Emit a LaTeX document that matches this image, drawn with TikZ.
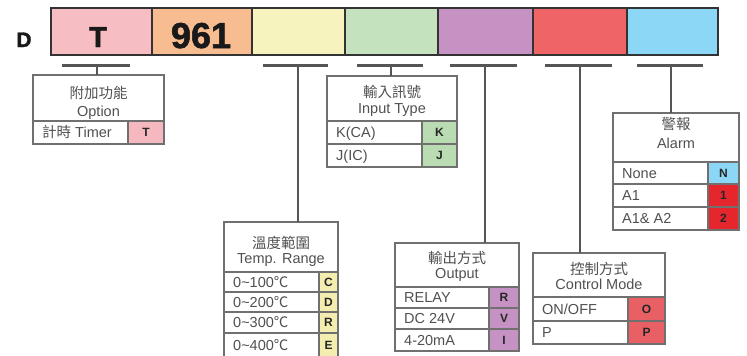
\documentclass[tikz,border=0pt]{standalone}
\usepackage{fontspec}
\setmainfont{Liberation Sans}
\newfontfamily\cjk{Noto Sans CJK TC}
\newfontfamily\heavy[BoldFeatures={FakeBold=1.5}]{Liberation Sans}
\definecolor{tpink}{HTML}{F6BEC3}
\definecolor{torange}{HTML}{F7BD90}
\definecolor{tyellow}{HTML}{F6F3BE}
\definecolor{tgreen}{HTML}{C5E2BF}
\definecolor{tpurple}{HTML}{C692C4}
\definecolor{tred}{HTML}{EF6467}
\definecolor{tblue}{HTML}{8DD7F6}
\definecolor{cred}{HTML}{E5262C}
\definecolor{cyellow}{HTML}{F3EDB0}
\definecolor{cgreen}{HTML}{B9DCB3}
\definecolor{cpink}{HTML}{F4B8BE}
\definecolor{cpurple}{HTML}{C692C4}
\definecolor{cored}{HTML}{E96064}
\definecolor{barline}{HTML}{333333}
\definecolor{tline}{HTML}{707070}
\definecolor{ttext}{HTML}{505050}
\definecolor{conn}{HTML}{555555}
\newcommand\codefont{\fontsize{12}{12}\selectfont\bfseries}
\newcommand\mkrow[9]{%
 \node[cell, minimum width={#4-#2}, minimum height={#6-#3}] (#1l) at (#2,#3) {};
 \node[cell, fill=#9, minimum width={#5-#4}, minimum height={#6-#3}, font=\codefont, text=black!85] (#1c) at (#4,#3) {#8};
 \node[rowtext] (#1t) at ({#2+9},{(#3+#6)/2+5.3}) {#7};
}
\begin{document}
\begin{tikzpicture}[x=1pt,y=-1pt,
  topbox/.style={draw=barline, line width=2pt, minimum height=47pt, inner sep=0pt, outer sep=0pt, anchor=north west},
  bigtext/.style={anchor=base, inner sep=0pt, text=black!90},
  cell/.style={draw=tline, line width=1.2pt, inner sep=0pt, outer sep=0pt, anchor=north west},
  rowtext/.style={anchor=base west, inner sep=0pt, text=ttext, font=\fontsize{14.5}{17}\selectfont},
  headtext/.style={anchor=base, inner sep=0pt, text=ttext, font=\fontsize{14.5}{17}\selectfont},
  bar/.style={draw=conn, line width=3pt},
  stem/.style={draw=conn, line width=2.4pt}]
\useasboundingbox (0,0) rectangle (747,356);
% top code bar
\node[topbox, fill=tpink,   minimum width=101pt] (b1) at (51,8) {};
\node[topbox, fill=torange, minimum width=100pt] (b2) at (152,8) {};
\node[topbox, fill=tyellow, minimum width=93pt]  (b3) at (252,8) {};
\node[topbox, fill=tgreen,  minimum width=93pt]  (b4) at (345,8) {};
\node[topbox, fill=tpurple, minimum width=95pt]  (b5) at (438,8) {};
\node[topbox, fill=tred,    minimum width=94pt]  (b6) at (533,8) {};
\node[topbox, fill=tblue,   minimum width=91pt]  (b7) at (627,8) {};
\node[bigtext, font=\fontsize{21}{21}\heavy\bfseries] (tD) at (24,47) {D};
\node[bigtext, font=\fontsize{29}{29}\heavy\bfseries] (tT) at (98,47) {T};
\node[bigtext, font=\fontsize{36}{36}\heavy\bfseries] (t961) at (201,48) {961};
% Option table
\node[cell, minimum width=131pt, minimum height=46pt] (opt) at (33,75) {};
\node[headtext] (opta) at (98.5,98) {\cjk 附加功能};
\node[headtext] (optb) at (98.5,116) {Option};
\mkrow{opr1}{33}{121}{128}{164}{144}{{\cjk 計時} Timer}{T}{cpink}
% Input type table
\node[cell, minimum width=130pt, minimum height=45pt] (inp) at (327,76) {};
\node[headtext] (inpa) at (392,97) {\cjk 輸入訊號};
\node[headtext] (inpb) at (392,113) {Input Type};
\mkrow{inr1}{327}{121}{422}{457}{144}{K(CA)}{K}{cgreen}
\mkrow{inr2}{327}{144}{422}{457}{167}{J(IC)}{J}{cgreen}
% Alarm table
\node[cell, minimum width=126pt, minimum height=49pt] (alm) at (613,113) {};
\node[headtext] (alma) at (676,129) {\cjk 警報};
\node[headtext] (almb) at (676,148) {Alarm};
\mkrow{alr1}{613}{162}{708}{739}{184}{None}{N}{tblue}
\mkrow{alr2}{613}{184}{708}{739}{207}{A1}{1}{cred}
\mkrow{alr3}{613}{207}{708}{739}{230}{A1\& A2}{2}{cred}
% Temp range table
\node[cell, minimum width=114pt, minimum height=50pt] (tmp) at (224,222) {};
\node[headtext] (tmpa) at (281,248) {\cjk 溫度範圍};
\node[headtext] (tmpb) at (281,263) {Temp. Range};
\mkrow{tmr1}{224}{272}{319}{338}{292}{0\textasciitilde100{\cjk ℃}}{C}{cyellow}
\mkrow{tmr2}{224}{292}{319}{338}{312}{0\textasciitilde200{\cjk ℃}}{D}{cyellow}
\mkrow{tmr3}{224}{312}{319}{338}{333}{0\textasciitilde300{\cjk ℃}}{R}{cyellow}
\mkrow{tmr4}{224}{333}{319}{338}{357}{0\textasciitilde400{\cjk ℃}}{E}{cyellow}
% Output table
\node[cell, minimum width=124pt, minimum height=44pt] (out) at (395,243) {};
\node[headtext] (outa) at (457,263) {\cjk 輸出方式};
\node[headtext] (outb) at (457,278) {Output};
\mkrow{our1}{395}{287}{489}{519}{308}{RELAY}{R}{cpurple}
\mkrow{our2}{395}{308}{489}{519}{329}{DC 24V}{V}{cpurple}
\mkrow{our3}{395}{329}{489}{519}{351}{4-20mA}{I}{cpurple}
% Control mode table
\node[cell, minimum width=132pt, minimum height=44pt] (ctl) at (533,253) {};
\node[headtext] (ctla) at (599,274) {\cjk 控制方式};
\node[headtext] (ctlb) at (599,289) {Control Mode};
\mkrow{ctr1}{533}{297}{628}{665}{321}{ON/OFF}{O}{cored}
\mkrow{ctr2}{533}{321}{628}{665}{344}{P}{P}{cored}
% connectors
\coordinate (c1l) at (62,65);  \coordinate (c1r) at (130,65); \coordinate (m1) at (97,65);
\coordinate (c2l) at (263,65); \coordinate (c2r) at (328,65); \coordinate (m2) at (298,65);
\coordinate (c3l) at (357,65); \coordinate (c3r) at (423,65); \coordinate (m3) at (391,65);
\coordinate (c4l) at (450,65); \coordinate (c4r) at (517,65); \coordinate (m4) at (485,65);
\coordinate (c5l) at (545,65); \coordinate (c5r) at (612,65); \coordinate (m5) at (580,65);
\coordinate (c6l) at (637,65); \coordinate (c6r) at (703,65); \coordinate (m6) at (671,65);
\draw[bar] (c1l) -- (c1r); \draw[stem] (m1) -- (m1 |- opt.north);
\draw[bar] (c2l) -- (c2r); \draw[stem] (m2) -- (m2 |- tmp.north);
\draw[bar] (c3l) -- (c3r); \draw[stem] (m3) -- (m3 |- inp.north);
\draw[bar] (c4l) -- (c4r); \draw[stem] (m4) -- (m4 |- out.north);
\draw[bar] (c5l) -- (c5r); \draw[stem] (m5) -- (m5 |- ctl.north);
\draw[bar] (c6l) -- (c6r); \draw[stem] (m6) -- (m6 |- alm.north);
\end{tikzpicture}
\end{document}
